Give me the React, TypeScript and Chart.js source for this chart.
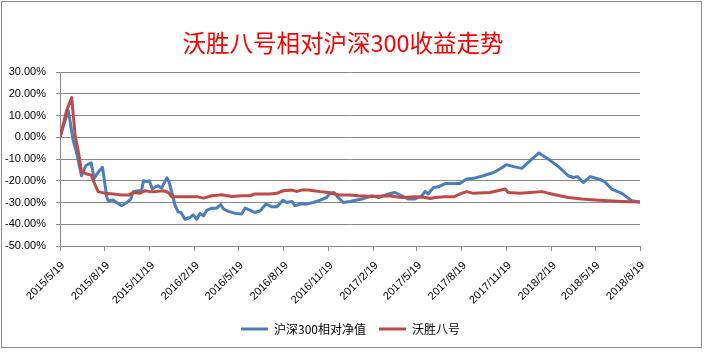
import React, { useEffect, useRef } from 'react';
import { Chart, registerables } from 'chart.js';

Chart.register(...registerables);

const chartTitle = '沃胜八号相对沪深300收益走势';
const seriesNames = ['沪深300相对净值', '沃胜八号'];

const tickDates = [
  '2015/5/19', '2015/8/19', '2015/11/19', '2016/2/19', '2016/5/19', '2016/8/19', '2016/11/19',
  '2017/2/19', '2017/5/19', '2017/8/19', '2017/11/19', '2018/2/19', '2018/5/19', '2018/8/19',
];

const yMin = -50;
const yMax = 30;
const yStep = 10;

// days since 2015/5/19, values in %
const hs300Days = [0, 8, 17, 27, 34, 44, 53, 64, 70, 77, 87, 96, 99, 109, 116, 126, 137, 145, 150, 160, 167, 171, 178, 183, 189, 195, 201, 208, 219, 223, 229, 236, 242, 248, 256, 266, 273, 280, 287, 294, 301, 311, 321, 329, 335, 345, 359, 372, 379, 389, 399, 410, 422, 434, 444, 457, 464, 475, 481, 492, 505, 519, 533, 546, 553, 561, 570, 580, 594, 618, 639, 652, 673, 686, 700, 713, 727, 741, 748, 754, 765, 775, 789, 802, 819, 833, 847, 867, 888, 901, 914, 929, 946, 963, 981, 1000, 1021, 1041, 1051, 1060, 1072, 1086, 1103, 1115, 1130, 1151, 1171, 1188];
const hs300Values = [0, 6, 12.3, -1.5, -7, -17.7, -13, -11.8, -19, -16.4, -13.8, -27.7, -29.2, -28.9, -30, -31.5, -30, -28.4, -25, -24.6, -24.6, -20, -20.4, -20, -23.8, -22.8, -22.3, -23.4, -18.7, -20.3, -25.4, -31.5, -34.3, -34.6, -37.7, -36.9, -35.7, -37.7, -35, -36.1, -33.5, -32.6, -32.6, -31, -33, -34.1, -35, -35.3, -32.6, -33.5, -34.6, -33.8, -30.7, -32, -32, -28.9, -30, -29.5, -31.5, -30.7, -30.7, -30, -28.9, -27.7, -25.8, -25.4, -27.7, -30, -29.5, -28.4, -26.9, -27.7, -26.1, -25.4, -26.9, -28.4, -28.4, -26.9, -24.9, -26.1, -23.1, -22.8, -21.3, -21.3, -21.3, -19.2, -18.9, -17.7, -16.2, -14.6, -12.6, -13.5, -14.3, -10.8, -7.2, -10, -13.5, -17.7, -18.5, -18.1, -20.8, -18.1, -19.2, -20.3, -23.8, -25.8, -29.2, -29.8];

const wsDays = [0, 14, 24, 31, 38, 44, 55, 64, 70, 78, 92, 109, 126, 140, 150, 164, 174, 184, 195, 212, 222, 229, 283, 294, 311, 331, 352, 372, 389, 399, 410, 430, 444, 457, 475, 485, 495, 509, 519, 533, 550, 563, 574, 594, 611, 639, 673, 700, 727, 748, 758, 768, 789, 806, 819, 833, 847, 881, 912, 918, 942, 963, 987, 1014, 1041, 1069, 1096, 1123, 1151, 1188];
const wsValues = [0, 12.6, 18.2, 0.8, -7, -15.8, -16.9, -17.4, -20.8, -25, -25.7, -26.1, -26.6, -26.6, -25.4, -25.7, -24.6, -25, -25, -24.6, -25.4, -27.4, -27.4, -28, -26.9, -26.4, -27.2, -26.9, -26.9, -26.1, -26.1, -26.1, -25.8, -24.6, -24.3, -24.9, -24.3, -24.3, -24.6, -25, -25.4, -26.1, -26.6, -26.6, -26.9, -27.2, -26.9, -27.7, -27.4, -27.7, -28.2, -27.7, -27.4, -27.4, -26.1, -25, -25.8, -25.4, -23.8, -25.4, -25.7, -25.4, -25, -26.4, -27.7, -28.4, -28.8, -29.2, -29.5, -29.8];

const toDays = (s: string) => {
  const [y, m, d] = s.split('/').map(Number);
  return Math.round((Date.UTC(y, m - 1, d) - Date.UTC(2015, 4, 19)) / 86400000);
};
const tickDays = tickDates.map(toDays);

const gridColor = '#8a8a8a';
const labelFont = { family: '"Liberation Sans", Arial, sans-serif', size: 11 };

const titlePlugin = {
  id: 'customTitle',
  afterDraw(chart: any) {
    const ctx = chart.ctx;
    ctx.save();
    ctx.font = '23.5px "Noto Sans CJK SC"';
    ctx.fillStyle = '#FF0000';
    ctx.textAlign = 'center';
    ctx.textBaseline = 'middle';
    ctx.fillText(chartTitle, 343, 43);
    ctx.restore();
  },
};

export default function App() {
  const ref = useRef<HTMLCanvasElement>(null);

  useEffect(() => {
    const chart = new Chart(ref.current as HTMLCanvasElement, {
      type: 'line',
      data: {
        datasets: [
          {
            label: seriesNames[0],
            data: hs300Days.map((d, i) => ({ x: d, y: hs300Values[i] })),
            borderColor: '#4A7EBB',
            backgroundColor: '#4A7EBB',
            borderWidth: 3,
            pointRadius: 0,
            tension: 0,
            order: 1,
            borderJoinStyle: 'round',
            borderCapStyle: 'round',
          },
          {
            label: seriesNames[1],
            data: wsDays.map((d, i) => ({ x: d, y: wsValues[i] })),
            borderColor: '#BE4B48',
            backgroundColor: '#BE4B48',
            borderWidth: 3,
            pointRadius: 0,
            tension: 0,
            order: 0,
            borderJoinStyle: 'round',
            borderCapStyle: 'round',
          },
        ],
      },
      options: {
        animation: false,
        responsive: false,
        devicePixelRatio: 1,
        events: [],
        layout: { padding: { left: 0, right: 3, top: 72, bottom: 8 } },
        scales: {
          x: {
            type: 'linear',
            min: tickDays[0],
            max: tickDays[tickDays.length - 1],
            afterBuildTicks: (s: any) => {
              s.ticks = tickDays.map((v) => ({ value: v }));
            },
            afterFit: (s: any) => {
              s.height = 64;
            },
            grid: { drawOnChartArea: false, drawTicks: true, tickLength: 5, color: gridColor },
            border: { color: gridColor },
            ticks: {
              autoSkip: false,
              maxRotation: 45,
              minRotation: 45,
              padding: 8,
              labelOffset: 3,
              color: '#000',
              font: labelFont,
              callback: (_v: any, i: number) => tickDates[i],
            },
          },
          y: {
            min: yMin,
            max: yMax,
            afterFit: (s: any) => {
              s.width = 60;
            },
            grid: { color: gridColor, tickLength: 4 },
            border: { color: gridColor },
            ticks: {
              stepSize: yStep,
              padding: 10,
              color: '#000',
              font: labelFont,
              callback: (v: any) => Number(v).toFixed(2) + '%',
            },
          },
          y2: {
            position: 'right',
            display: true,
            min: 0,
            max: 1,
            afterFit: (s: any) => {
              s.width = 61;
            },
            grid: { display: false },
            ticks: { display: false },
            border: { display: false },
          },
        },
        plugins: {
          legend: {
            position: 'bottom',
            labels: {
              usePointStyle: true,
              pointStyle: 'line',
              pointStyleWidth: 27,
              padding: 13,
              color: '#000',
              font: { family: '"Noto Sans CJK SC"', size: 12 },
              sort: (a: any, b: any) => a.datasetIndex - b.datasetIndex,
            },
          },
          title: { display: false },
          tooltip: { enabled: false },
        },
      },
      plugins: [titlePlugin],
    } as any);
    return () => chart.destroy();
  }, []);

  return (
    <div style={{ position: 'fixed', left: 0, top: 0, width: 704, height: 353, background: '#fff' }}>
      <div
        style={{
          position: 'absolute',
          left: 1,
          top: 1,
          width: 701,
          height: 347,
          boxSizing: 'border-box',
          border: '1px solid #8c8c8c',
        }}
      />
      <canvas
        ref={ref}
        width={704}
        height={353}
        style={{ position: 'absolute', left: 0, top: 0, width: 704, height: 353 }}
      />
    </div>
  );
}
